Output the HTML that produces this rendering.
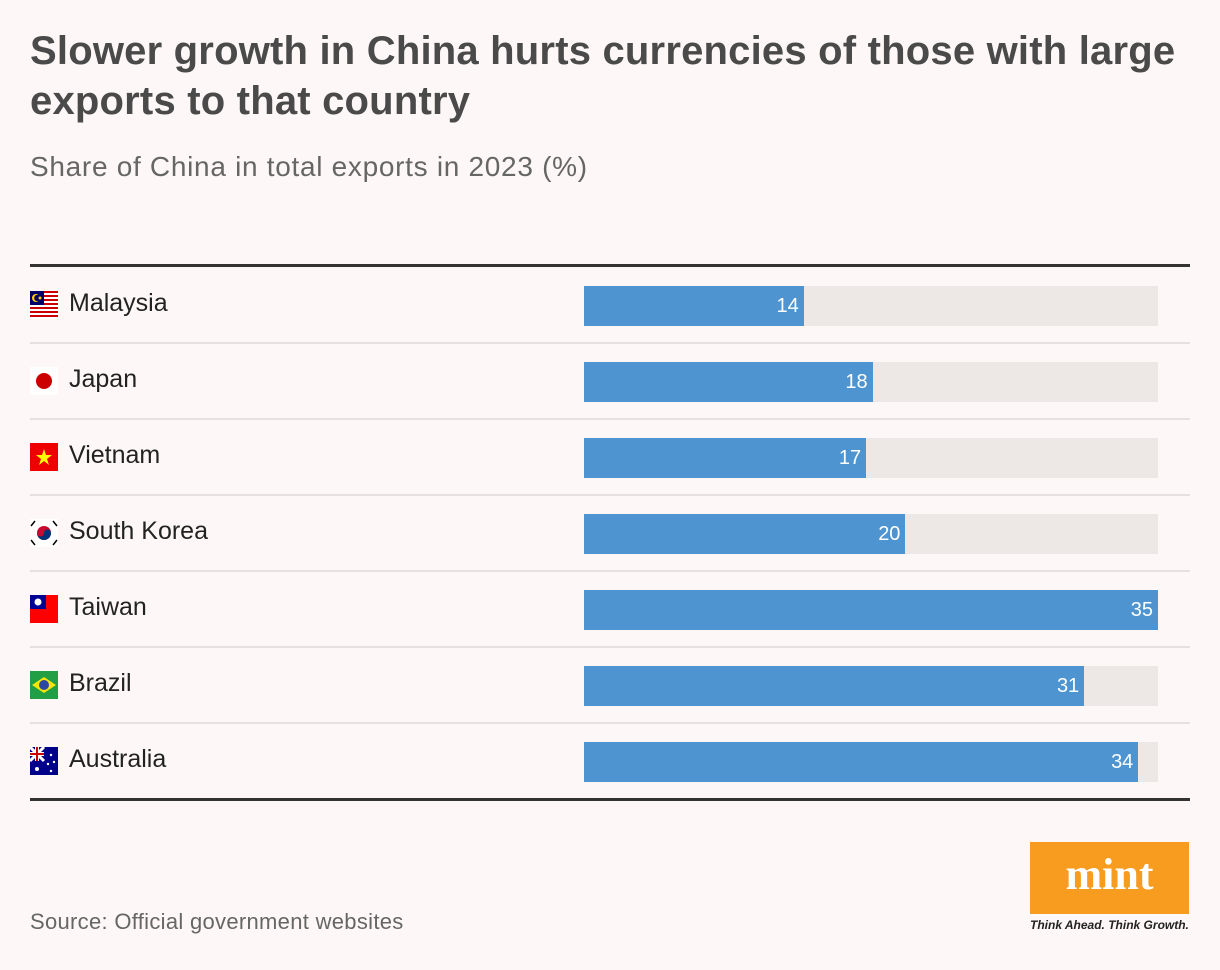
<!DOCTYPE html>
<html><head><meta charset="utf-8"><style>
body{margin:0;background:#fdf8f7;width:1220px;height:970px;position:relative;overflow:hidden;font-family:"Liberation Sans",sans-serif;}
.abs{position:absolute;}
h1{position:absolute;left:30px;top:26px;margin:0;font-size:40px;line-height:50px;font-weight:bold;color:#4a4a4a;letter-spacing:0.2px;width:1180px;}
.sub{left:30px;top:151px;font-size:28px;color:#666;letter-spacing:0.7px;}
.lbl{position:absolute;left:69px;font-size:25px;color:#222;}
.val{position:absolute;font-size:20px;color:#fff;text-align:right;}
.flag{position:absolute;left:30px;width:28px;height:28px;}
</style></head><body>
<h1>Slower growth in China hurts currencies of those with large exports to that country</h1>
<div class="abs sub">Share of China in total exports in 2023 (%)</div>
<div class="abs" style="left:30px;top:264px;width:1160px;height:3px;background:#333"></div>
<div class="abs" style="left:30px;top:798px;width:1160px;height:3px;background:#333"></div>
<div id="rows"></div>
<div class="abs" style="left:30px;top:909px;font-size:22px;color:#666;letter-spacing:0.3px">Source: Official government websites</div>
<div class="abs" style="left:1030px;top:842px;width:159px;height:72px;background:#f89c1f;color:#fff;font-family:'Liberation Serif',serif;font-weight:bold;font-size:44px;text-align:center;line-height:66px">mint</div>
<div class="abs" style="left:1030px;top:918px;font-size:12px;font-style:italic;font-weight:bold;color:#222">Think Ahead. Think Growth.</div>
<script>
const countries=["Malaysia","Japan","Vietnam","South Korea","Taiwan","Brazil","Australia"];
const values=[13.4,17.6,17.2,19.6,35,30.5,33.8];
const labels=["14","18","17","20","35","31","34"];
const maxVal=35;
const flags=[
'<rect width="28" height="28" fill="#fff"/><g fill="#cc0001"><rect y="0" width="28" height="2"/><rect y="4" width="28" height="2"/><rect y="8" width="28" height="2"/><rect y="12" width="28" height="2"/><rect y="16" width="28" height="2"/><rect y="20" width="28" height="2"/><rect y="24" width="28" height="2"/></g><rect width="14" height="14" fill="#010066"/><circle cx="6" cy="7" r="4" fill="#fc0"/><circle cx="7.5" cy="7" r="3.3" fill="#010066"/><circle cx="10" cy="7" r="1.5" fill="#fc0"/>',
'<rect width="28" height="28" fill="#fff"/><circle cx="14" cy="14" r="8" fill="#c00"/>',
'<rect width="28" height="28" fill="#e00"/><polygon points="14,6 16,12 22,12 17,16 19,22 14,18 9,22 11,16 6,12 12,12" fill="#ff0"/>',
'<rect width="28" height="28" fill="#fff"/><circle cx="14" cy="14" r="7" fill="#c60c30"/><path d="M7,14 a7,7 0 0 0 14,0 a3.5,3.5 0 0 0 -7,0 a3.5,3.5 0 0 1 -7,0z" fill="#003478"/><g stroke="#000" stroke-width="1.5"><line x1="1" y1="7" x2="5" y2="2"/><line x1="23" y1="2" x2="27" y2="7"/><line x1="1" y1="21" x2="5" y2="26"/><line x1="23" y1="26" x2="27" y2="21"/></g>',
'<rect width="28" height="28" fill="#fe0000"/><rect width="16" height="14" fill="#000095"/><circle cx="8" cy="7" r="3.5" fill="#fff"/>',
'<rect width="28" height="28" fill="#229e45"/><polygon points="14,6 26,14 14,22 2,14" fill="#f8e509"/><circle cx="14" cy="14" r="5" fill="#2b49a3"/>',
'<rect width="28" height="28" fill="#00008b"/><path d="M0,0L14,14M14,0L0,14" stroke="#fff" stroke-width="3"/><path d="M7,0V14M0,7H14" stroke="#fff" stroke-width="4"/><path d="M7,0V14M0,7H14" stroke="#c00" stroke-width="2"/><g fill="#fff"><circle cx="7" cy="22" r="2"/><circle cx="21" cy="8" r="1.2"/><circle cx="24" cy="15" r="1.2"/><circle cx="18" cy="17" r="1.2"/><circle cx="21" cy="24" r="1.2"/></g>'
];
const x0=584,trackW=574,rowTop=267,rowH=76;
function xScale(v){return v/maxVal*trackW;}
const root=document.getElementById('rows');
countries.forEach((c,i)=>{
  const top=rowTop+i*rowH;
  const cy=top+39;
  if(i>0){const sep=document.createElement('div');sep.className='abs';
    sep.style.cssText=`left:30px;top:${top-1}px;width:1160px;height:2px;background:#e6e1e0`;
    
    
    root.appendChild(sep);}
  const f=document.createElementNS('http://www.w3.org/2000/svg','svg');
  f.setAttribute('class','flag');f.setAttribute('viewBox','0 0 28 28');
  f.style.top=(cy-15)+'px';f.innerHTML=flags[i];
  
  
  root.appendChild(f);
  const l=document.createElement('div');l.className='lbl';l.textContent=c;
  l.style.top=(cy-17)+'px';
  
  
  root.appendChild(l);
  const t=document.createElement('div');t.className='abs';
  t.style.cssText=`left:${x0}px;top:${cy-20}px;width:${trackW}px;height:40px;background:#ede7e6`;
  
  
  root.appendChild(t);
  const w=xScale(values[i]);
  const b=document.createElement('div');b.className='abs';
  b.style.cssText=`left:${x0}px;top:${cy-20}px;width:${w}px;height:40px;background:#4d94d0`;
  
  
  root.appendChild(b);
  const v=document.createElement('div');v.className='val';v.textContent=labels[i];
  v.style.left=(x0+w-60)+'px';v.style.width='55px';v.style.top=(cy-11)+'px';
  
  
  root.appendChild(v);
});
</script>
</body></html>
